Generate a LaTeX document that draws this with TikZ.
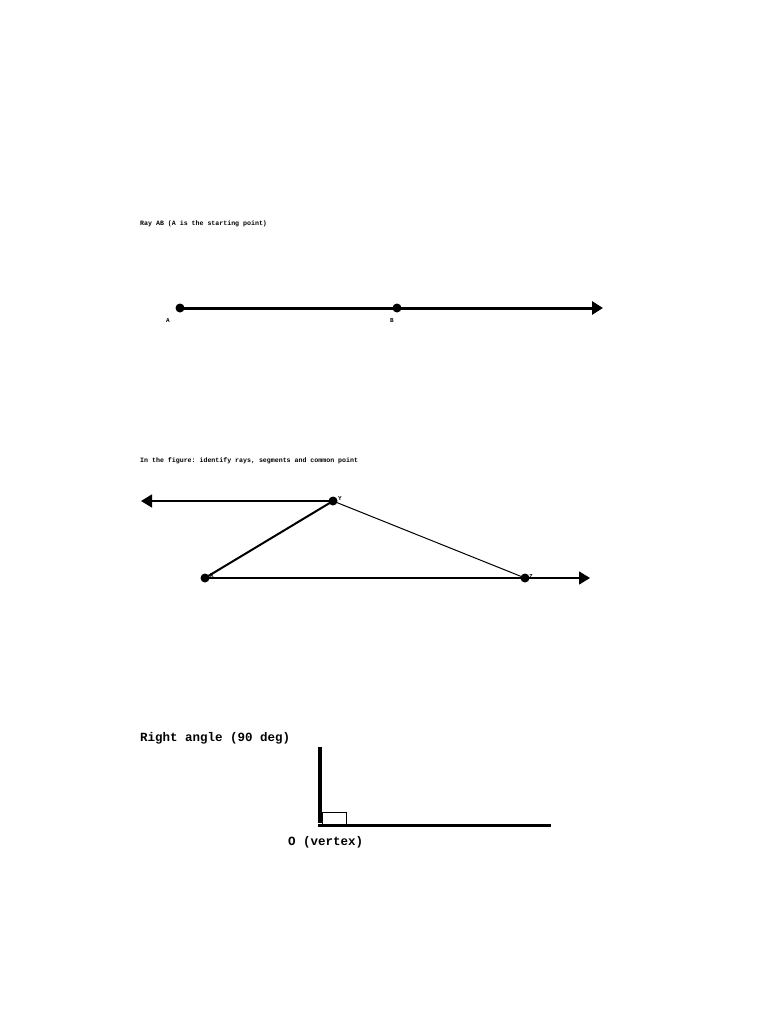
\documentclass[tikz,border=0pt]{standalone}
\usepackage{fontspec}
\setmonofont{Liberation Mono}
\usetikzlibrary{positioning}
\usetikzlibrary{arrows.meta}
\tikzset{edge/.style = {-{Triangle[length=11pt,width=13pt]}}}

\begin{document}
\begin{tikzpicture}[x=1pt,y=-1pt,dot/.style={circle,fill,inner sep=0pt,minimum size=9pt},
    title/.style={anchor=west,inner sep=0pt,font=\ttfamily\bfseries\fontsize{6.6}{7}\selectfont},
    tag/.style={inner sep=0pt,font=\ttfamily\bfseries\fontsize{6}{6}\selectfont},
    big/.style={anchor=west,inner sep=0pt,font=\ttfamily\bfseries\fontsize{12.5}{13}\selectfont}]
            \useasboundingbox (0,0) rectangle (768,1024);
            % ray AB
            \node[title] (t1) at (140,224) {Ray AB (A is the starting point)};
            \node[dot] (A) at (180,308) {};
            \node[dot] (B) at (397,308) {};
            \coordinate (Bend) at (603,308);
            \draw[edge,line width=3pt] (A.center) -- (Bend);
            \node[tag] (la) at (168,321) {A};
            \node[tag] (lb) at (392,321) {B};
            % rays, segments and common point
            \node[title] (t2) at (140,461) {In the figure: identify rays, segments and common point};
            \node[dot] (Y) at (333,501) {};
            \node[dot] (X) at (205,578) {};
            \node[dot] (Z) at (525,578) {};
            \coordinate (Yend) at (141,501);
            \coordinate (Zend) at (590,578);
            \draw[edge,line width=1.5pt] (Y.center) -- (Yend);
            \draw[edge,line width=1.5pt] (X.center) -- (Zend);
            \draw[line width=2pt] (Y.center) -- (X.center);
            \draw[line width=1pt] (Y.center) -- (Z.center);
            \node[tag] (ly) at (340,499) {Y};
            \node[tag] (lx) at (212,576) {X};
            \node[tag] (lz) at (531,577) {Z};
            % right angle
            \node[big] (t3) at (140,738) {Right angle (90 deg)};
            \coordinate (O) at (320,825);
            \coordinate (top) at (320,747);
            \coordinate (right) at (551,825);
            \draw[line width=4pt] (top) -- ([yshift=2pt]O);
            \draw[line width=3pt] ([xshift=-2pt]O) -- (right);
            \draw[line width=0.8pt] (322,812) rectangle (346,824);
            \node[big] (lo) at (288,842) {O (vertex)};
        \end{tikzpicture}
\end{document}
